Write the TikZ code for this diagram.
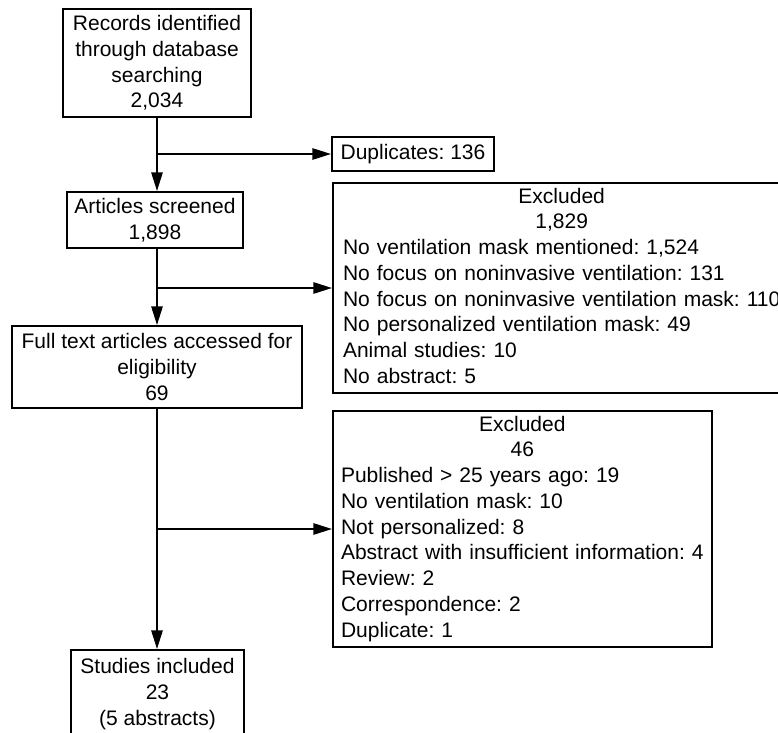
\documentclass[tikz,border=0pt]{standalone}
\usepackage{fontspec}
\setmainfont{Liberation Sans}
\usetikzlibrary{arrows.meta}
\frenchspacing
\tikzset{
  box/.style={draw, line width=1.5pt, inner sep=0pt, align=center,
    font=\fontsize{15.75pt}{19.3pt}\selectfont},
  exbox/.style={draw, line width=1.5pt, inner ysep=0pt,
    font=\fontsize{15.75pt}{19.3pt}\selectfont},
  arr/.style={line width=1.4pt, -{Triangle[length=14pt, width=8.5pt]}}
}
\begin{document}
\begin{tikzpicture}[x=0.75pt, y=-0.75pt]
\useasboundingbox (0,0) rectangle (778,732);
\clip (0,0) rectangle (778,732);
\node[box, minimum width=141pt, minimum height=81pt] (b1) at (157,63)
  {Records identified\\through database\\searching\\2,034};
\node[box, anchor=west, minimum width=121.5pt, minimum height=25.5pt] (dup) at (331,154)
  {Duplicates: 136};
\node[box, minimum width=132pt, minimum height=42pt] (b2) at (155,220)
  {Articles screened\\1,898};
\node[exbox, anchor=west, text width=340pt, inner xsep=7.5pt, minimum height=157.5pt] (ex1) at (332,288)
  {\begin{tabular}{@{}l@{}}
   \multicolumn{1}{@{}c@{}}{Excluded}\\
   \multicolumn{1}{@{}c@{}}{1,829}\\
   No ventilation mask mentioned: 1,524\\
   No focus on noninvasive ventilation: 131\\
   No focus on noninvasive ventilation mask: 110\\
   No personalized ventilation mask: 49\\
   Animal studies: 10\\
   No abstract: 5
   \end{tabular}};
\node[box, minimum width=217.5pt, minimum height=61.5pt] (b3) at (157,367)
  {Full text articles accessed for\\eligibility\\69};
\node[exbox, text width=272.25pt, inner xsep=6pt, minimum height=177pt] (ex2) at (522.5,529)
  {\begin{tabular}{@{}l@{}}
   \multicolumn{1}{@{}c@{}}{Excluded}\\
   \multicolumn{1}{@{}c@{}}{46}\\
   Published > 25 years ago: 19\\
   No ventilation mask: 10\\
   Not personalized: 8\\
   Abstract with insufficient information: 4\\
   Review: 2\\
   Correspondence: 2\\
   Duplicate: 1
   \end{tabular}};
\node[box, minimum width=129.75pt, minimum height=66pt] (b4) at (157.5,694)
  {Studies included\\23\\(5 abstracts)};
\draw[arr] (b1.south) -- (b1.south |- b2.north);
\draw[arr] (b1.south |- dup.west) -- (dup.west);
\draw[arr] (b1.south |- b2.south) -- (b1.south |- b3.north);
\draw[arr] (b1.south |- ex1.west) -- (ex1.west);
\draw[arr] (b3.south) -- (b3.south |- b4.north);
\draw[arr] (b3.south |- ex2.west) -- (ex2.west);
\end{tikzpicture}
\end{document}
